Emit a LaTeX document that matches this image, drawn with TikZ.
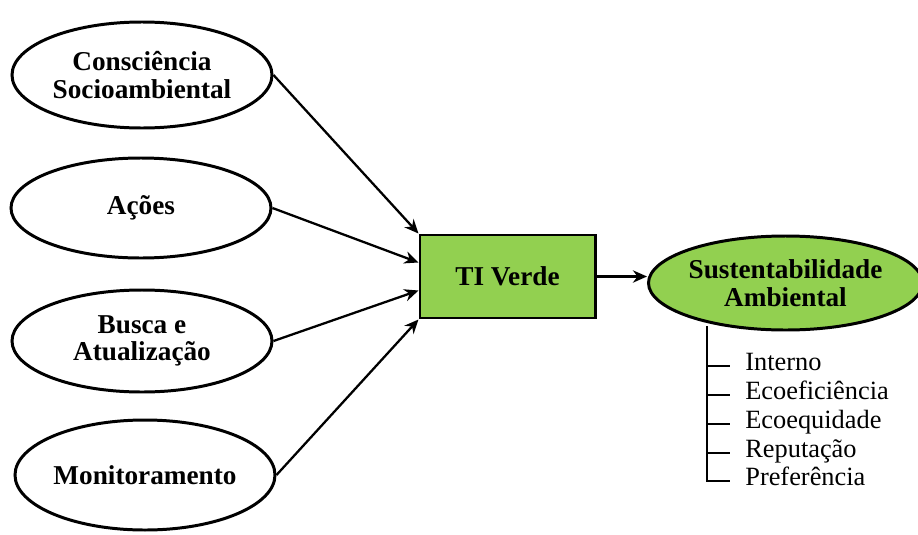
\documentclass[tikz,border=0pt]{standalone}
\usepackage{fontspec}
\setmainfont{Liberation Serif}
\usetikzlibrary{shapes.geometric, arrows.meta}
\definecolor{verde}{RGB}{146,208,80}
\begin{document}
\begin{tikzpicture}[
    dim/.style={ellipse, draw, line width=1.7pt, minimum width=5.2cm, align=center,
        font=\fontsize{15.5}{15.5}\selectfont\bfseries, inner sep=0pt},
    box/.style={rectangle, draw, line width=1.7pt, fill=verde, minimum width=3.5cm,
        minimum height=1.66cm, font=\fontsize{15.5}{16}\selectfont\bfseries},
    goal/.style={ellipse, draw, line width=1.7pt, fill=verde, minimum width=5.3cm,
        minimum height=1.88cm, align=center, font=\fontsize{15.5}{16}\selectfont\bfseries, inner sep=0pt},
    item/.style={anchor=west, inner sep=0pt, font=\fontsize{15}{16}\selectfont,
        text height=1.6ex, text depth=.4ex},
    arrow/.style={-{Stealth[length=8pt, width=7pt]}, line width=1.3pt},
]
\useasboundingbox (0,0) rectangle (18.36,-10.68);

% Dimensoes
\node[dim, minimum height=2.12cm] (consc) at (2.84,-1.5) {Consciência\\Socioambiental};
\node[dim, minimum height=2.0cm] (acoes) at (2.82,-4.16) {Ações};
\node[dim, minimum height=2.04cm] (busca) at (2.84,-6.82) {Busca e\\Atualização};
\node[dim, minimum height=2.2cm] (monit) at (2.9,-9.5) {Monitoramento};

% TI Verde e resultado
\node[box] (ti) at (10.15,-5.53) {TI Verde};
\node[goal] (sust) at (15.71,-5.66) {Sustentabilidade\\Ambiental};

% Setas
\draw[arrow] (consc.east) -- (ti.north west);
\draw[arrow] (acoes.east) -- ([yshift=0.28cm]ti.west);
\draw[arrow] (busca.east) -- ([yshift=-0.28cm]ti.west);
\draw[arrow] (monit.east) -- (ti.south west);
\draw[arrow] (ti.east) -- (ti.east -| sust.west);

% Indicadores
\node[item] (i1) at (14.9,-7.32) {Interno};
\node[item] (i2) at (14.9,-7.9) {Ecoeficiência};
\node[item] (i3) at (14.9,-8.48) {Ecoequidade};
\node[item] (i4) at (14.9,-9.06) {Reputação};
\node[item] (i5) at (14.9,-9.62) {Preferência};

\coordinate (bar) at (14.14,-6.52);
\draw[line width=1.5pt] (bar) -- (bar |- i5.west) -- ([xshift=-0.3cm]i5.west);
\draw[line width=1.5pt] (bar |- i1.west) -- ([xshift=-0.3cm]i1.west);
\draw[line width=1.5pt] (bar |- i2.west) -- ([xshift=-0.3cm]i2.west);
\draw[line width=1.5pt] (bar |- i3.west) -- ([xshift=-0.3cm]i3.west);
\draw[line width=1.5pt] (bar |- i4.west) -- ([xshift=-0.3cm]i4.west);

\end{tikzpicture}
\end{document}
